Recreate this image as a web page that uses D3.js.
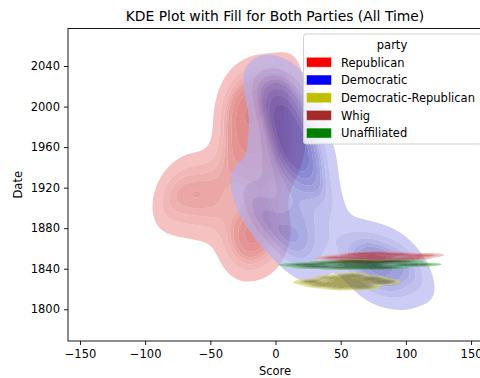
<!DOCTYPE html>
<html>
<head>
<meta charset="utf-8">
<script src="https://cdn.jsdelivr.net/npm/d3@7"></script>
<style>
  body { margin: 0; background: #fff; }
  svg { font-family: "DejaVu Sans", sans-serif; }
</style>
</head>
<body>
<svg id="chart" width="480" height="378"></svg>
<script>
// parties, in hue order
const parties = ["Republican", "Democratic", "Democratic-Republican", "Whig", "Unaffiliated"];
const partyColors = ["#ff0000", "#0000ff", "#bfbf00", "#a52a2a", "#008000"];

const republicanPts = [
  [-5,1856],[-20,1857],[-12,1859],[-28,1861],[-18,1862],[2,1864],[-15,1866],[-32,1868],[-22,1871],[-8,1873],[-18,1876],[0,1878],[-30,1880],[-25,1883],[-12,1885],[-20,1888],[-5,1890],[-35,1886],
  [-40,1888],[-55,1891],[-70,1894],[-48,1897],[-82,1900],[-62,1902],[-42,1905],[-76,1907],[-58,1910],[-86,1912],[-66,1915],[-46,1918],[-78,1920],[-56,1923],[-40,1927],[-64,1930],[-50,1934],[-72,1926],[-15,1897],[-8,1908],[-20,1918],[-5,1926],
  [-25,1932],[-10,1934],[5,1936],[-32,1938],[-15,1941],[0,1943],[-22,1945],[10,1947],[-8,1949],[-35,1951],[-18,1953],[2,1955],[-28,1957],[12,1959],[-12,1961],[-30,1963],[-4,1965],[8,1967],[-20,1969],[-34,1971],[0,1973],[-14,1975],[-26,1977],[6,1979],[-10,1981],[-32,1983],[-18,1985],[4,1987],[-24,1989],[-6,1991],[-34,1993],[10,1995],[-16,1997],[-28,1999],[-2,2001],[-20,2003],[-36,2005],[8,2007],[-12,2009],[-26,2011],[0,2013],[-18,2015],[-32,2017],[-6,2019],[-22,2021],[4,2023],
  [-10,2014],[2,2018],[-14,2022],[8,2024],[-4,2010]
];
const democraticPts = [
  [56,1842],[62,1836],[68,1846],[72,1832],[76,1840],[80,1850],[84,1836],[88,1844],[92,1854],[96,1840],[100,1848],[106,1836],[110,1844],[66,1854],[74,1858],[86,1830],[60,1850],[78,1844],[94,1832],[70,1840],[82,1856],[102,1842],
  [18,1852],[10,1856],[26,1859],[4,1862],[18,1865],[30,1868],[8,1871],[22,1874],[14,1877],[-8,1880],[34,1882],[2,1885],[-14,1888],[20,1890],[-4,1893],
  [28,1896],[-16,1898],[10,1901],[36,1904],[-22,1907],[16,1910],[38,1913],[-10,1916],[4,1919],[32,1922],[-20,1925],[14,1928],[36,1931],[-8,1934],[22,1937],[0,1939],
  [10,1941],[16,1943],[12,1946],[20,1948],[8,1950],[14,1952],[24,1954],[11,1956],[15,1958],[13,1960],[6,1962],[18,1964],[12,1966],[14,1968],[22,1970],[9,1972],[16,1974],[12,1976],[-4,1978],[20,1980],[10,1983],[4,1986],[34,1958],[-12,1962],[32,1972],
  [0,1989],[12,1992],[-4,1995],[8,1998],[16,2001],[2,2004],[-6,2007],[10,2010],[4,2013],[14,2016],[-2,2019],[6,2022],[18,2024],[28,2005],[-12,2012]
];
const demRepPts = [
  [28,1827],[36,1824],[44,1831],[50,1822],[54,1829],[58,1833],[62,1825],[66,1822],[72,1830],[82,1827],[56,1827],[46,1826]
];
const whigPts = [
  [48,1851],[58,1848],[64,1854],[68,1850],[72,1847],[75,1855],[78,1851],[84,1848],[92,1854],[102,1850],[112,1853],[70,1851]
];
const unaffiliatedPts = [
  [24,1844],[34,1842],[45,1846],[55,1841],[60,1847],[64,1844],[68,1842],[72,1846],[80,1841],[92,1847],[106,1844],[66,1844]
];
const partyPts = [republicanPts, democraticPts, demRepPts, whigPts, unaffiliatedPts];

const xTicks = [-150, -100, -50, 0, 50, 100, 150];
const yTicks = [1800, 1840, 1880, 1920, 1960, 2000, 2040];

// band colours light -> dark for each party, and kernel width per party
const bandLight = ["#f0a0a0", "#b0b0f0", "#d7d250", "#eba0a0", "#50c850"];
const bandDark  = ["#c83232", "#2a2aa8", "#78730a", "#c03030", "#0a500a"];
const bwFactors = [0.38, 0.35, 0.4, 0.4, 0.4];
const fillAlpha = 0.65;
const isoLevels = d3.range(10).map(i => 0.05 + i * (0.95 / 9));

const svg = d3.select("#chart");
const mLeft = 68, mRight = 482, mTop = 28.5, mBottom = 341;
const x = d3.scaleLinear().domain([-159.2, 158.4]).range([mLeft, mRight]);
const y = d3.scaleLinear().domain([1768.7, 2077]).range([mBottom, mTop]);

// density grid (1px cells over the axes)
const nx = Math.ceil(mRight - mLeft), ny = Math.ceil(mBottom - mTop);
const gx = d3.range(nx).map(i => x.invert(mLeft + i + 0.5));
const gy = d3.range(ny).map(j => y.invert(mTop + j + 0.5));

function kdeGrid(pts, bw) {
  const n = pts.length;
  const mx = d3.mean(pts, p => p[0]), my = d3.mean(pts, p => p[1]);
  let sxx = 0, syy = 0, sxy = 0;
  pts.forEach(([a, b]) => { sxx += (a - mx) ** 2; syy += (b - my) ** 2; sxy += (a - mx) * (b - my); });
  const f2 = bw * bw / (n - 1);
  const hxx = sxx * f2, hyy = syy * f2, hxy = sxy * f2;
  const det = hxx * hyy - hxy * hxy;
  const ixx = hyy / det, iyy = hxx / det, ixy = -hxy / det;
  const norm = 1 / (n * 2 * Math.PI * Math.sqrt(det));
  const rx = 4.5 * Math.sqrt(hxx), ry = 4.5 * Math.sqrt(hyy);
  const grid = new Float64Array(nx * ny);
  pts.forEach(([a, b]) => {
    const i0 = Math.max(0, Math.floor(x(a - rx) - mLeft)), i1 = Math.min(nx - 1, Math.ceil(x(a + rx) - mLeft));
    const j0 = Math.max(0, Math.floor(y(b + ry) - mTop)), j1 = Math.min(ny - 1, Math.ceil(y(b - ry) - mTop));
    for (let j = j0; j <= j1; j++) {
      const dy = gy[j] - b;
      for (let i = i0; i <= i1; i++) {
        const dx = gx[i] - a;
        const q = dx * dx * ixx + 2 * dx * dy * ixy + dy * dy * iyy;
        grid[j * nx + i] += Math.exp(-0.5 * q) * norm;
      }
    }
  });
  return grid;
}

// common normalisation: weight each party by its share of observations
const total = d3.sum(partyPts, p => p.length);
const grids = partyPts.map((pts, pi) => {
  const g = kdeGrid(pts, bwFactors[pi]), w = pts.length / total;
  for (let k = 0; k < g.length; k++) g[k] *= w;
  return g;
});

// iso-proportion -> iso-density levels, shared by all parties
const pooled = new Float64Array(grids.length * nx * ny);
grids.forEach((g, k) => pooled.set(g, k * nx * ny));
pooled.sort().reverse();
const cum = new Float64Array(pooled.length);
let acc = 0;
pooled.forEach((v, k) => { acc += v; cum[k] = acc; });
const levels = isoLevels.map(p => {
  const target = (1 - p) * acc;
  const idx = Math.min(d3.bisectLeft(cum, target), pooled.length - 1);
  return pooled[idx];
});

svg.append("defs").append("clipPath").attr("id", "plot-clip")
  .append("rect").attr("x", mLeft).attr("y", mTop).attr("width", mRight - mLeft).attr("height", mBottom - mTop);

const path = d3.geoPath();
const contourGen = d3.contours().size([nx, ny]).thresholds(levels);
const plot = svg.append("g").attr("clip-path", "url(#plot-clip)")
  .append("g").attr("transform", `translate(${mLeft},${mTop})`);

grids.forEach((g, pi) => {
  const cs = contourGen(g);
  const color = d3.interpolateRgb(bandLight[pi], bandDark[pi]);
  for (let k = 0; k < cs.length - 1; k++) {
    const outer = path(cs[k]) || "";
    if (!outer) continue;
    const inner = path(cs[k + 1]) || "";
    plot.append("path")
      .attr("d", outer + inner)
      .attr("fill-rule", "evenodd")
      .attr("fill", color(k / (cs.length - 2)))
      .attr("fill-opacity", fillAlpha);
  }
});

// axes
const xAxis = svg.append("g").attr("transform", `translate(0,${mBottom})`)
  .call(d3.axisBottom(x).tickValues(xTicks).tickSize(4).tickPadding(5).tickSizeOuter(0));
const yAxis = svg.append("g").attr("transform", `translate(${mLeft},0)`)
  .call(d3.axisLeft(y).tickValues(yTicks).tickFormat(d3.format("d")).tickSize(4).tickPadding(4).tickSizeOuter(0));
[xAxis, yAxis].forEach(a => {
  a.select(".domain").remove();
  a.selectAll("text").attr("font-size", 11.5).attr("fill", "#000").attr("font-family", "DejaVu Sans");
  a.selectAll("line").attr("stroke", "#000").attr("stroke-width", 0.9);
});

svg.append("rect")
  .attr("x", mLeft).attr("y", mTop).attr("width", mRight - mLeft).attr("height", mBottom - mTop)
  .attr("fill", "none").attr("stroke", "#000").attr("stroke-width", 0.9);

svg.append("text").attr("x", (mLeft + mRight) / 2).attr("y", 21)
  .attr("text-anchor", "middle").attr("font-size", 13.9).text("KDE Plot with Fill for Both Parties (All Time)");
svg.append("text").attr("x", (mLeft + mRight) / 2).attr("y", 375)
  .attr("text-anchor", "middle").attr("font-size", 11.5).text("Score");
svg.append("text").attr("transform", `translate(22,${(mTop + mBottom) / 2}) rotate(-90)`)
  .attr("text-anchor", "middle").attr("font-size", 11.5).text("Date");

// legend
const legend = svg.append("g");
legend.append("rect")
  .attr("x", 303.5).attr("y", 34).attr("width", 178).attr("height", 110).attr("rx", 2.5)
  .attr("fill", "#fff").attr("fill-opacity", 0.8).attr("stroke", "#cccccc").attr("stroke-width", 0.9);
legend.append("text").attr("x", 392).attr("y", 48.5).attr("text-anchor", "middle")
  .attr("font-size", 11.5).text("party");
parties.forEach((p, i) => {
  const cy = 62.3 + i * 17.7;
  legend.append("rect").attr("x", 307).attr("y", cy - 4.5).attr("width", 24).attr("height", 9)
    .attr("fill", partyColors[i]).attr("stroke", partyColors[i]).attr("stroke-opacity", 0.5);
  legend.append("text").attr("x", 341).attr("y", cy + 4.2).attr("font-size", 11.5).text(p);
});
</script>
</body>
</html>
